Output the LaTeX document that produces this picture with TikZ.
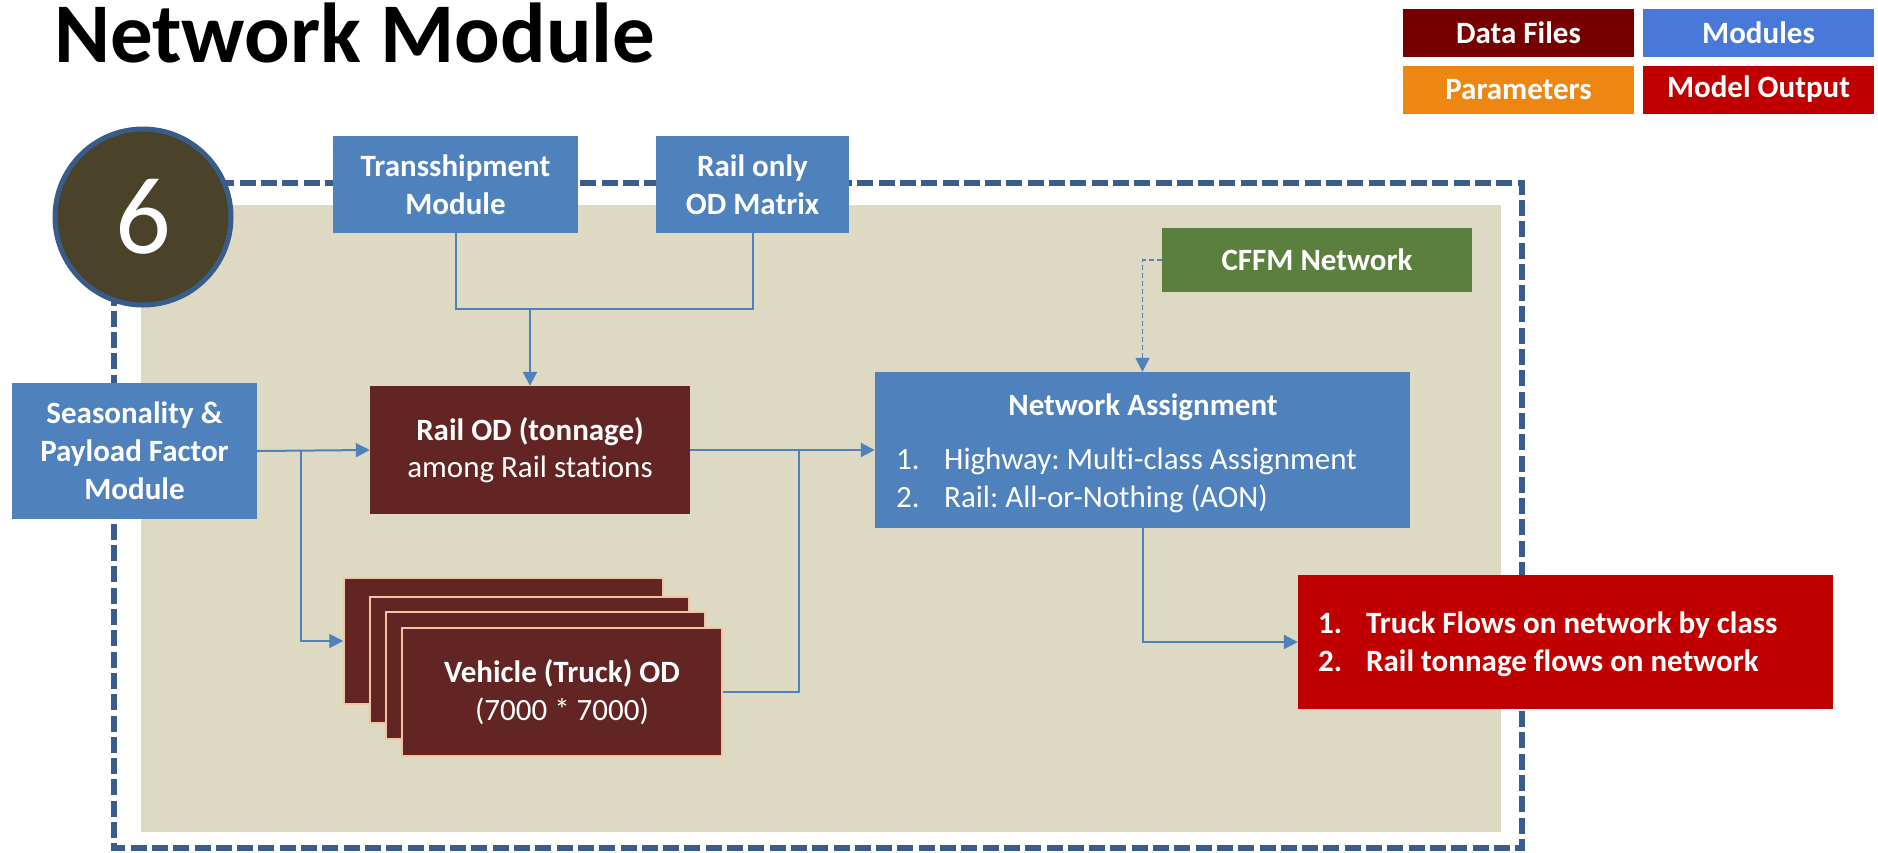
\documentclass[tikz,border=0pt]{standalone}
\usepackage{fontspec}
\setmainfont[Ligatures=NoCommon]{Carlito}
\usetikzlibrary{arrows.meta}
\frenchspacing
\definecolor{modblue}{HTML}{4F81BD}
\definecolor{legblue}{HTML}{4878D8}
\definecolor{legdata}{HTML}{760000}
\definecolor{legparam}{HTML}{EE8712}
\definecolor{outred}{HTML}{C00000}
\definecolor{datared}{HTML}{632523}
\definecolor{peach}{HTML}{F2C4A0}
\definecolor{cffmgreen}{HTML}{5B803E}
\definecolor{beige}{HTML}{DDD9C3}
\definecolor{olive}{HTML}{4A4229}
\definecolor{darkblue}{HTML}{385D8A}
\tikzset{
  box/.style={rectangle, inner sep=0pt, text=white, align=center, font=\fontsize{31}{38}\selectfont\bfseries},
  modbox/.style={box, fill=modblue},
  databox/.style={box, fill=datared},
  stackbox/.style={box, fill=datared, draw=peach, line width=1.5pt},
  legbox/.style={box, minimum width=231pt, minimum height=48pt},
  wire/.style={draw=modblue, line width=2pt},
  conn/.style={wire, -{Triangle[length=14pt,width=14pt]}},
  txt/.style={text=white, inner sep=0pt, anchor=base west, font=\fontsize{31}{38}\selectfont},
}
\begin{document}
\begin{tikzpicture}[x=1pt,y=-1pt]
\useasboundingbox (0,0) rectangle (1878,852);
% background and frame
\fill[beige] (141,205) rectangle (1501,832);
\draw[darkblue, line width=5.5pt, dash pattern=on 16pt off 5.3pt] (114,183) rectangle (1522,848);
% title
\node[anchor=base west, inner sep=0pt, font=\fontsize{85}{90}\selectfont\bfseries] (title) at (54,62) {Network Module};
% legend
\node[legbox, fill=legdata] (lgdata) at (1518.5,33) {Data Files};
\node[legbox, fill=legblue] (lgmod) at (1758.5,33) {Modules};
\node[legbox, fill=legparam] (lgpar) at (1518.5,89.5) {Parameters};
\node[legbox, fill=outred] (lgout) at (1758.5,89.5) {Model Output};
% circle 6
\node[circle, fill=olive, draw=darkblue, line width=5pt, minimum size=176pt, inner sep=0pt, text=white, font=\fontsize{110}{110}\selectfont] (six) at (143,217) {6};
% modules
\node[modbox, minimum width=245pt, minimum height=97pt] (trans) at (455.5,184.5) {Transshipment\\Module};
\node[modbox, minimum width=193pt, minimum height=97pt] (railonly) at (752.5,184.5) {Rail only\\OD Matrix};
\node[modbox, minimum width=245pt, minimum height=136pt] (seas) at (134.5,451) {Seasonality \&\\Payload Factor\\Module};
\node[box, fill=cffmgreen, minimum width=310pt, minimum height=64pt] (cffm) at (1317,260) {CFFM Network};
\node[modbox, minimum width=535pt, minimum height=156pt] (na) at (1142.5,450) {};
\node[anchor=base, inner sep=0pt, text=white, font=\fontsize{31}{38}\selectfont\bfseries] (natitle) at (1143,415) {Network Assignment};
\node[txt] (na1n) at (896,469) {1.};
\node[txt] (na1) at (944,469) {Highway: Multi-class Assignment};
\node[txt] (na2n) at (896,507) {2.};
\node[txt] (na2) at (944,507) {Rail: All-or-Nothing (AON)};
% data
\node[databox, minimum width=320pt, minimum height=128pt] (railod) at (530,450) {Rail OD (tonnage)\\[-1pt]{\mdseries among Rail stations}};
\node[stackbox, minimum width=319pt, minimum height=126pt] (v1) at (503.5,641) {};
\node[stackbox, minimum width=319pt, minimum height=126pt] (v2) at (529.5,660) {};
\node[stackbox, minimum width=319pt, minimum height=127pt] (v3) at (545.5,675.5) {};
\node[stackbox, minimum width=320pt, minimum height=128pt] (v4) at (562,692) {Vehicle (Truck) OD\\{\mdseries (7000 * 7000)}};
% output
\node[box, fill=outred, minimum width=535pt, minimum height=134pt] (out) at (1565.5,642) {};
\node[txt, font=\fontsize{31}{38}\selectfont\bfseries] (o1n) at (1318,633) {1.};
\node[txt, font=\fontsize{31}{38}\selectfont\bfseries] (o1) at (1366,633) {Truck Flows on network by class};
\node[txt, font=\fontsize{31}{38}\selectfont\bfseries] (o2n) at (1318,671) {2.};
\node[txt, font=\fontsize{31}{38}\selectfont\bfseries] (o2) at (1366,671) {Rail tonnage flows on network};
% connectors
\coordinate (tj) at (530,309);
\draw[wire] (trans.south) |- (railonly.south |- tj) -- (railonly.south);
\draw[conn] (tj) -- (railod.north);
\draw[conn] (seas.east) -- (railod.west);
\coordinate (sj) at (301,451);
\draw[conn] (sj) |- (v1.west);
\draw[conn] (railod.east) -- (na.west);
\coordinate (vj) at (799,450);
\draw[wire] (v4.east) -| (vj);
\draw[conn, line width=1.5pt, dash pattern=on 5pt off 3pt] (cffm.west) -| (na.north);
\draw[conn] (na.south) |- (out.west);
\end{tikzpicture}
\end{document}
